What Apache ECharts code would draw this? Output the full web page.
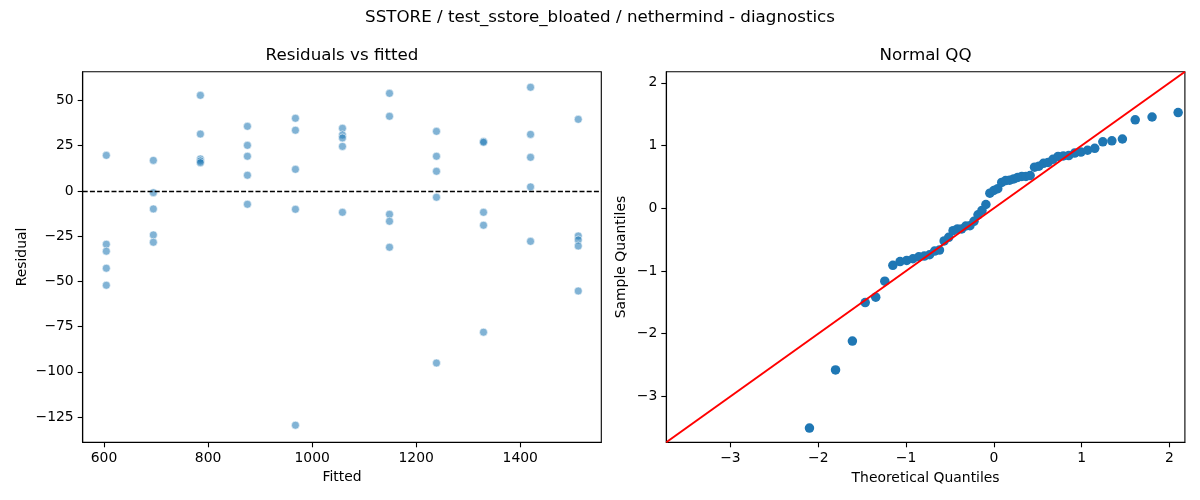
<!DOCTYPE html>
<html><head><meta charset="utf-8">
<script src="https://cdn.jsdelivr.net/npm/echarts@6/dist/echarts.min.js"></script>
<style>html,body{margin:0;padding:0;background:#fff}#c{width:1200px;height:500px}</style>
</head><body><div id="c"></div>
<script>
// Residuals vs fitted (left panel)
const fitted = [
  604.4,604.4,604.4,604.4,604.4,
  694.8,694.8,694.8,694.8,694.8,
  785.2,785.2,785.2,785.2,785.2,
  875.6,875.6,875.6,875.6,875.6,
  967.9,967.9,967.9,967.9,967.9,
  1058.3,1058.3,1058.3,1058.3,1058.3,
  1148.7,1148.7,1148.7,1148.7,1148.7,
  1239.0,1239.0,1239.0,1239.0,1239.0,
  1329.4,1329.4,1329.4,1329.4,1329.4,
  1419.8,1419.8,1419.8,1419.8,1419.8,
  1511.5,1511.5,1511.5,1511.5,1511.5
];
const residuals = [
  19.65,-29.49,-33.35,-42.76,-52.17,
  16.87,-0.96,-9.97,-24.34,-28.40,
  52.83,31.43,17.67,16.57,15.59,
  35.70,25.19,19.15,8.65,-7.40,
  40.15,33.52,11.92,-10.17,-129.54,
  34.61,30.94,29.26,24.60,-11.85,
  53.92,41.24,-12.94,-16.81,-31.17,
  32.92,19.15,10.83,-3.53,-95.16,
  27.37,26.88,-11.85,-18.99,-78.12,
  57.29,31.24,18.56,2.20,-27.90,
  39.56,-24.93,-27.11,-30.48,-55.34
];
// Normal QQ (right panel)
const theoretical = [
  -2.100,-1.803,-1.611,-1.465,-1.345,-1.242,-1.150,-1.068,-0.992,-0.921,
  -0.854,-0.792,-0.732,-0.674,-0.619,-0.566,-0.514,-0.464,-0.414,-0.366,
  -0.319,-0.272,-0.226,-0.180,-0.135,-0.090,-0.045,0.000,0.045,0.090,
  0.135,0.180,0.226,0.272,0.319,0.366,0.414,0.464,0.514,0.566,
  0.619,0.674,0.732,0.792,0.854,0.921,0.992,1.068,1.150,1.242,
  1.345,1.465,1.611,1.803,2.100
];
const sample = [
  -3.505,-2.578,-2.118,-1.503,-1.417,-1.163,-0.909,-0.850,-0.832,-0.805,
  -0.775,-0.762,-0.741,-0.682,-0.666,-0.521,-0.463,-0.358,-0.329,-0.329,
  -0.283,-0.278,-0.209,-0.104,-0.035,0.060,0.240,0.283,0.313,0.412,
  0.441,0.447,0.468,0.492,0.508,0.508,0.521,0.655,0.671,0.717,
  0.730,0.781,0.826,0.834,0.840,0.880,0.896,0.925,0.955,1.059,
  1.075,1.104,1.410,1.455,1.525
];
const residTicks = [-125,-100,-75,-50,-25,0,25,50];
const fittedTicks = [600,800,1000,1200,1400];
const qqTicks = [-3,-2,-1,0,1,2];
const suptitle = 'SSTORE / test_sstore_bloated / nethermind - diagnostics';
const titles = ['Residuals vs fitted','Normal QQ'];
const xNames = ['Fitted','Theoretical Quantiles'];
const yNames = ['Residual','Sample Quantiles'];
const fittedRange = [559.0, 1555.8];
const residRange = [-139.0, 65.9];
const qqRange = [-3.731, 2.177];

const F = 'DejaVu Sans';
const fmt = v => String(v).replace('-', '\u2212');
function axis(idx, ticks, range) {
  return {
    type: 'value', gridIndex: idx, min: range[0], max: range[1],
    axisLine: {show: true, onZero: false, lineStyle: {color: '#000', width: 1.1}},
    axisTick: {show: true, length: 5, lineStyle: {color: '#000', width: 1.1}, customValues: ticks},
    axisLabel: {show: true, margin: 9, fontFamily: F, fontSize: 13.9, color: '#000', customValues: ticks, formatter: fmt},
    splitLine: {show: false}
  };
}
const chart = echarts.init(document.getElementById('c'), null, {renderer: 'canvas'});
const L0 = 82.7, L1 = 666.3, T = 71.7, W = 518.6, H = 370.6;
const txt = (text, x, y, size, rot) => ({
  type: 'text', x: x, y: y, rotation: rot || 0, z: 100,
  style: {text: text, font: size + 'px "DejaVu Sans"', fill: '#000', textAlign: 'center', textVerticalAlign: 'middle'}
});
chart.setOption({
  animation: false,
  backgroundColor: '#fff',
  grid: [
    {left: L0, top: T, width: W, height: H, show: true, borderColor: '#000', borderWidth: 1.1, backgroundColor: '#fff'},
    {left: L1, top: T, width: W, height: H, show: true, borderColor: '#000', borderWidth: 1.1, backgroundColor: '#fff'}
  ],
  xAxis: [axis(0, fittedTicks, fittedRange), axis(1, qqTicks, qqRange)],
  yAxis: [axis(0, residTicks, residRange), axis(1, qqTicks, qqRange)],
  graphic: [
    txt(suptitle, 600, 18, 16.7),
    txt(titles[0], L0 + W / 2, 56, 16.7),
    txt(titles[1], L1 + W / 2, 56, 16.7),
    txt(xNames[0], L0 + W / 2, 477, 13.9),
    txt(xNames[1], L1 + W / 2, 478, 13.9),
    txt(yNames[0], 22, T + H / 2, 13.9, Math.PI / 2),
    txt(yNames[1], 621, T + H / 2, 13.9, Math.PI / 2)
  ],
  series: [
    {
      type: 'scatter', xAxisIndex: 0, yAxisIndex: 0,
      data: fitted.map((f, i) => [f, residuals[i]]),
      symbolSize: 8,
      itemStyle: {color: 'rgba(31,119,180,0.7)', borderColor: '#fff', borderWidth: 0.7},
      markLine: {
        silent: true, symbol: 'none', label: {show: false},
        lineStyle: {color: '#000', type: [5, 2.2], width: 1.4},
        data: [{yAxis: 0}]
      }
    },
    {
      type: 'scatter', xAxisIndex: 1, yAxisIndex: 1,
      data: theoretical.map((t, i) => [t, sample[i]]),
      symbolSize: 9.5,
      itemStyle: {color: '#1f77b4', opacity: 1}
    },
    {
      type: 'line', xAxisIndex: 1, yAxisIndex: 1, z: 5,
      data: [[qqRange[0], qqRange[0]], [qqRange[1], qqRange[1]]],
      symbol: 'none', clip: true,
      lineStyle: {color: '#ff0000', width: 2}
    }
  ]
});
</script>
</body></html>
